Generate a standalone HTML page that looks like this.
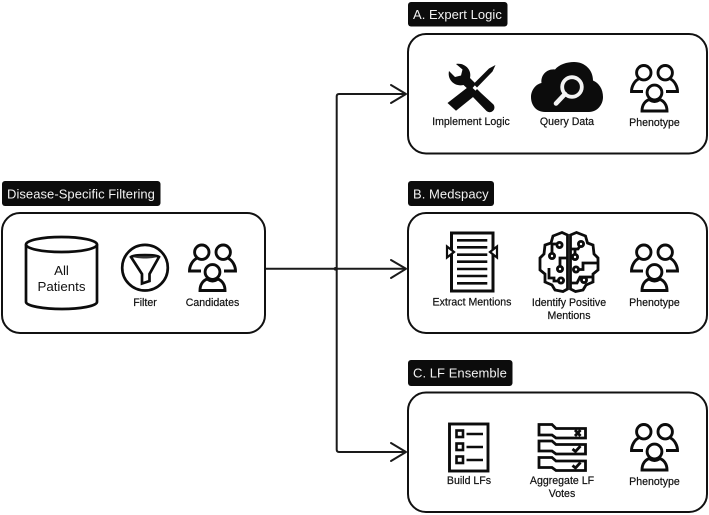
<!DOCTYPE html>
<html>
<head>
<meta charset="utf-8">
<style>
html,body{margin:0;padding:0;background:#fff;}
svg{display:block;font-family:"Liberation Sans",sans-serif;filter:blur(.35px);}
.box{fill:#fff;stroke:#111;stroke-width:2;}
.tag{fill:#0c0c0c;}
.tt{fill:#f2f2f2;font-size:13px;letter-spacing:.05px;}
.lb{fill:#111;stroke:#111;stroke-width:.2;font-size:10.6px;text-anchor:middle;}
.ln{fill:none;stroke:#1a1a1a;stroke-width:2;stroke-linecap:round;stroke-linejoin:round;}
.ic{fill:none;stroke:#0c0c0c;stroke-width:2.700;stroke-linejoin:miter;}
</style>
</head>
<body>
<svg width="709" height="515" viewBox="0 0 709 515" xmlns="http://www.w3.org/2000/svg">
<defs>
<g id="people" fill="none" stroke="#0c0c0c" stroke-width="2.900">
  <circle cx="-10.7" cy="-15.8" r="7.200"/>
  <circle cx="10.7" cy="-15.8" r="7.200"/>
  <circle cx="0" cy="4" r="7.400"/>
  <path d="M-12.5,22.5 C-12.5,16 -9,12.500 -5.500,11 C-2,13.500 2,13.500 5.500,11 C9,12.500 12.500,16 12.500,22.500 Z"/>
  <path d="M-16,-9.500 C-20,-7.500 -23,-2 -23,3 H-11.500"/>
  <path d="M16,-9.500 C20,-7.500 23,-2 23,3 H11.500"/>
</g>
</defs>

<!-- connectors -->
<path class="ln" d="M265,268.800 H405"/>
<path class="ln" d="M339,94 H405 M339,94 Q336.700,94 336.700,96.500 V449.500 Q336.700,452 339,452 H405"/>
<circle cx="335.500" cy="268.800" r="1.800" fill="#1a1a1a"/>
<path class="ln" d="M391,85 L406,94 L391,103"/>
<path class="ln" d="M391,260 L406,268.800 L391,278"/>
<path class="ln" d="M391,443 L406,452 L391,461"/>

<!-- left -->
<rect class="tag" x="2" y="181" width="158.500" height="25" rx="3"/>
<text class="tt" x="7" y="198.500">Disease-Specific Filtering</text>
<rect class="box" x="2" y="213" width="263" height="120" rx="18"/>
<path class="ic" d="M26,244.500 V302 C26,306 44,309 62,309 C80,309 97,306 97,302 V244.500"/>
<ellipse class="ic" cx="61.500" cy="244.500" rx="35.500" ry="7.500"/>
<text x="61.500" y="275" font-size="13.300" fill="#111" text-anchor="middle">All</text>
<text x="61.500" y="291" font-size="13.300" fill="#111" text-anchor="middle">Patients</text>
<circle class="ic" cx="145" cy="267.700" r="22.800"/>
<path class="ic" d="M131,257 C134,254.500 156,254.500 159,257 L149.500,274 V281 L142,283.500 V274 Z"/>
<path d="M133,257 C138,255.500 152,255.500 157,257 C152,259 138,259 133,257 Z" fill="#333"/>
<use href="#people" x="212.500" y="268"/>
<text class="lb" x="145" y="306">Filter</text>
<text class="lb" x="212.500" y="306">Candidates</text>

<!-- A -->
<rect class="tag" x="408" y="2" width="99.500" height="24.500" rx="3"/>
<text class="tt" x="413" y="19">A. Expert Logic</text>
<rect class="box" x="408" y="34" width="299" height="119.500" rx="18"/>
<!-- tools -->
<path d="M495.500,65 L492.500,71.500 L477,87.500 L473.500,84 L489,68.500 Z" fill="#0c0c0c"/>
<path d="M470,85.500 L478,93 L456,110.800 L447.500,103 Z" fill="#0c0c0c"/>
<path d="M456,64 C465,62.500 472,70 470,78 L476,84 L470,91 L463.500,85 C455,87 447,80 449,71 L455,77 L461,75.500 L462.500,69.500 Z" fill="#0c0c0c"/>
<path d="M477,89 L481,93 L493.500,104.500 A4.800,4.800 0 0 1 486.500,111 L471.500,95.500 Z" fill="#0c0c0c"/>
<!-- cloud -->
<path d="M545,112 C536,112 531,105 531,97 C531,90 536,84 541.500,83 C540.500,75 547,68.500 555,69.500 C559,64.500 567,62 574,62 C585,62 593,70 593,80.500 C599,83 603,89 603,97 C603,105 597,112 589,112 Z" fill="#0c0c0c"/>
<circle cx="572" cy="87" r="9.800" fill="#0c0c0c" stroke="#f4f4f4" stroke-width="3.800"/>
<path d="M565,94 L556,103.500" stroke="#f4f4f4" stroke-width="4.600" stroke-linecap="round"/>
<use href="#people" x="654.500" y="88.500"/>
<text class="lb" x="471" y="125">Implement Logic</text>
<text class="lb" x="567" y="125">Query Data</text>
<text class="lb" x="654.500" y="126">Phenotype</text>

<!-- B -->
<rect class="tag" x="408" y="181" width="86" height="25" rx="3"/>
<text class="tt" x="413" y="198.500">B. Medspacy</text>
<rect class="box" x="408" y="213" width="299" height="120" rx="18"/>
<rect x="451.500" y="233" width="41.500" height="58" fill="none" stroke="#0c0c0c" stroke-width="3"/>
<path d="M457,240.300 H487.300 M457,247.300 H487.300 M457,254.700 H487.300 M457,261.700 H487.300 M457,269 H487.300 M457,276 H487.300 M457,283.300 H487.300" stroke="#0c0c0c" stroke-width="2.600" fill="none"/>
<path d="M447,246.500 L454,252 L447,257.500 Z" fill="#fff" stroke="#0c0c0c" stroke-width="2.200"/>
<path d="M497,246.500 L490,252 L497,257.500 Z" fill="#fff" stroke="#0c0c0c" stroke-width="2.200"/>
<!-- brain -->
<g fill="none" stroke="#0c0c0c" stroke-width="2.800" stroke-linejoin="miter">
  <path d="M567.500,235 L562,232.500 L553,236 L551,243 L545,245 L544,254 L540,258 V270 L545,274 V282 L552,285 L555,290 L563,291.500 L567.500,289 Z"/>
  <path d="M570.500,235 L576.500,232.500 L585.500,236 L587.500,243 L593,245 L594,254 L598,258 V270 L593,274 V282 L586,285 L583,290 L575.500,291.500 L570.500,289 Z"/>
  <path d="M552,244 H557"/><circle cx="559.500" cy="245" r="2.600"/>
  <path d="M552,244 V253"/><circle cx="552" cy="256" r="2.600"/>
  <path d="M567,258 H560 V266"/><circle cx="560" cy="269" r="2.600"/>
  <path d="M549,268 V278 H554 V281 H558.500"/><circle cx="561" cy="280.500" r="2.600"/>
  <circle cx="581" cy="244" r="2.600"/><path d="M571,249 H578 L580,246"/>
  <circle cx="575" cy="257" r="2.600"/><path d="M575,254 V249"/>
  <circle cx="576" cy="269.500" r="2.600"/><path d="M578.500,269.500 H583 V263 H597"/>
  <path d="M570.500,283 H577 L580,277 H592"/><circle cx="584" cy="280" r="2.600"/>
</g>
<use href="#people" x="654.500" y="268"/>
<text class="lb" x="472" y="305.700">Extract Mentions</text>
<text class="lb" x="569" y="306">Identify Positive</text>
<text class="lb" x="569" y="319">Mentions</text>
<text class="lb" x="654.500" y="306">Phenotype</text>

<!-- C -->
<rect class="tag" x="408" y="360" width="104.500" height="26" rx="3"/>
<text class="tt" x="413" y="377.500">C. LF Ensemble</text>
<rect class="box" x="408" y="392.500" width="299" height="119.500" rx="18"/>
<rect x="449.500" y="424" width="38.500" height="47" fill="none" stroke="#0c0c0c" stroke-width="2.900"/>
<rect x="456.500" y="430.500" width="6.500" height="6.500" fill="none" stroke="#0c0c0c" stroke-width="2.600"/>
<rect x="456.500" y="443.500" width="6.500" height="6.500" fill="none" stroke="#0c0c0c" stroke-width="2.600"/>
<rect x="456.500" y="456.500" width="6.500" height="6.500" fill="none" stroke="#0c0c0c" stroke-width="2.600"/>
<path d="M466.500,434 H483 M466.500,447 H483 M466.500,460 H483" stroke="#0c0c0c" stroke-width="2.500"/>
<g fill="#fff" stroke="#0c0c0c" stroke-width="2.800">
  <path d="M539,424.500 H552 L556,428.500 H585.500 V438 H556 L552,435 H539 Z"/>
  <path d="M539,441 H552 L556,444.500 H585.500 V454 H556 L552,451 H539 Z"/>
  <path d="M539,457.500 H552 L556,461 H585.500 V470.500 H556 L552,467.500 H539 Z"/>
</g>
<path d="M575,430 L580.500,436 M580.500,430 L575,436" stroke="#0c0c0c" stroke-width="2.800"/>
<path d="M572.500,449 L575.500,451.500 L580.500,446" fill="none" stroke="#0c0c0c" stroke-width="2.800"/>
<path d="M572.500,465.500 L575.500,468 L580.500,462.500" fill="none" stroke="#0c0c0c" stroke-width="2.800"/>
<use href="#people" x="654.500" y="447.500"/>
<text class="lb" x="469" y="484">Build LFs</text>
<text class="lb" x="562" y="484">Aggregate LF</text>
<text class="lb" x="562" y="497">Votes</text>
<text class="lb" x="654.500" y="485">Phenotype</text>
</svg>
</body>
</html>
